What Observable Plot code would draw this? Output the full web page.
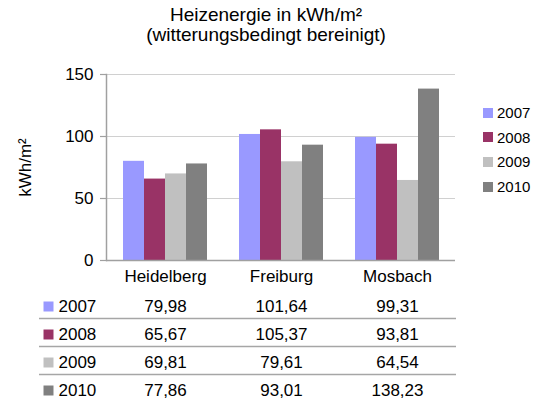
<!DOCTYPE html>
<html><head><meta charset="utf-8">
<script src="https://cdn.jsdelivr.net/npm/d3@7"></script>
<script src="https://cdn.jsdelivr.net/npm/@observablehq/plot@0.6"></script>
<style>
body{margin:0;background:#fff;font-family:"Liberation Sans",Arial,sans-serif;color:#000;}
#wrap{position:relative;width:539px;height:403px;overflow:hidden;}
#wrap svg{position:absolute;left:0;}
.title{position:absolute;left:0;width:532px;top:5px;text-align:center;font-size:19px;line-height:20px;}
.lg{position:absolute;left:483px;height:10px;display:flex;align-items:center;font-size:15px;}
.lg span.sw{width:10px;height:10px;display:inline-block;margin-right:4px;}
</style></head><body><div id="wrap"></div>
<script>
const categories = ["Heidelberg", "Freiburg", "Mosbach"];
const years = ["2007", "2008", "2009", "2010"];
const colors = ["#9999ff", "#993366", "#c0c0c0", "#808080"];
const v2007 = [79.98, 101.64, 99.31];
const v2008 = [65.67, 105.37, 93.81];
const v2009 = [69.81, 79.61, 64.54];
const v2010 = [77.86, 93.01, 138.23];
const yTicks = [0, 50, 100, 150];
const titleLines = ["Heizenergie in kWh/m²", "(witterungsbedingt bereinigt)"];
const yLabel = "kWh/m²";

const series = [v2007, v2008, v2009, v2010];
const data = years.flatMap((yr, j) => categories.map((c, i) => ({category: c, year: yr, value: series[j][i]})));
const fmt = v => v.toFixed(2).replace(".", ",");
const font = '"Liberation Sans", Arial, sans-serif';
const wrap = document.getElementById("wrap");

const dims = {width: 539, height: 290, marginTop: 74, marginBottom: 30, marginLeft: 106, marginRight: 84};
const style = {fontFamily: font, fontSize: "17px", color: "#000", background: "transparent", overflow: "visible"};
const bandPad = {paddingInner: 0.26, paddingOuter: 0.13};

// base: grid, axes, labels
const base = Plot.plot({
  ...dims, style,
  x: {domain: categories, ...bandPad, axis: null},
  y: {domain: [0, 150], axis: null},
  marks: [
    Plot.gridY(yTicks.slice(1), {stroke: "#d0d0d0", strokeOpacity: 1, strokeWidth: 1}),
    Plot.axisY(yTicks, {anchor: "left", tickSize: 6, tickPadding: 7, stroke: "#a0a0a0", strokeWidth: 1.2, label: null, tickFormat: d => d}),
    Plot.axisX({anchor: "bottom", tickSize: 0, tickPadding: 9, label: null}),
    Plot.text([yLabel], {frameAnchor: "left", textAnchor: "middle", rotate: -90, dx: -81, fontSize: 17})
  ]
});
base.style.top = "0px";
wrap.appendChild(base);

// bars: grouped with fx facets
const bars = Plot.plot({
  ...dims, style,
  fx: {domain: categories, ...bandPad, axis: null, label: null},
  x: {domain: years, padding: 0, axis: null},
  y: {domain: [0, 150], axis: null},
  color: {domain: years, range: colors},
  marks: [
    Plot.barY(data, {fx: "category", x: "year", y: "value", fill: "year"})
  ]
});
bars.style.top = "0px";
wrap.appendChild(bars);

// axis lines on top
const lines = Plot.plot({
  ...dims, style,
  x: {domain: categories, ...bandPad, axis: null},
  y: {domain: [0, 150], axis: null},
  marks: [
    Plot.ruleY([0], {stroke: "#a0a0a0", strokeWidth: 1.5}),
    Plot.frame({anchor: "left", stroke: "#a0a0a0", strokeWidth: 1.5})
  ]
});
lines.style.top = "0px";
wrap.appendChild(lines);

const table = Plot.plot({
  width: 539, height: 113,
  marginTop: 0, marginBottom: 1, marginLeft: 39, marginRight: 83,
  style,
  x: {type: "point", domain: categories, range: [106, 455], padding: 0.5, axis: null},
  y: {type: "band", domain: years, padding: 0, axis: null},
  color: {domain: years, range: colors},
  marks: [
    Plot.ruleY(years.slice(0, 3), {y: d => d, dy: 14, stroke: "#a6a6a6", strokeWidth: 1.5}),
    Plot.dot(years, {y: d => d, fill: d => d, frameAnchor: "left", dx: 9, dy: 2, symbol: "square", r: 5.64}),
    Plot.text(years, {y: d => d, text: d => d, frameAnchor: "left", dx: 19, dy: 2, textAnchor: "start"}),
    Plot.text(data, {x: "category", y: "year", text: d => fmt(d.value), dy: 2})
  ]
});
table.style.top = "290px";
wrap.appendChild(table);

const t = document.createElement("div");
t.className = "title";
t.innerHTML = titleLines.join("<br>");
wrap.appendChild(t);

years.forEach((yr, j) => {
  const row = document.createElement("div");
  row.className = "lg";
  row.style.top = (107.5 + j * 24.7) + "px";
  const sw = document.createElement("span");
  sw.className = "sw";
  sw.style.background = colors[j];
  row.appendChild(sw);
  row.appendChild(document.createTextNode(yr));
  wrap.appendChild(row);
});
</script></body></html>
